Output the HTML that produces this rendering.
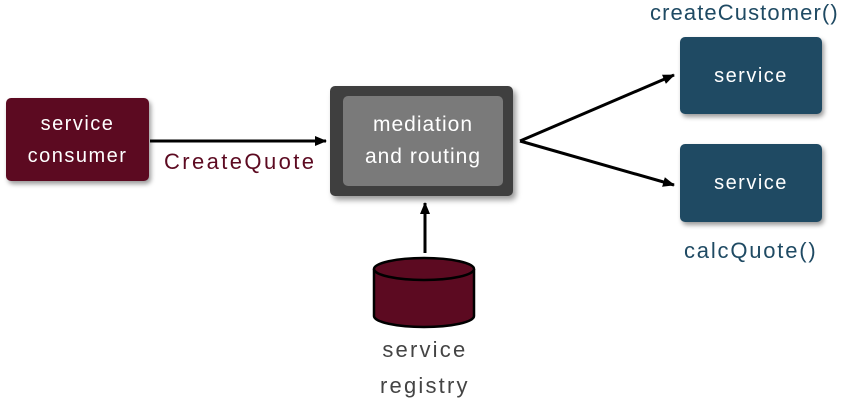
<!DOCTYPE html>
<html><head><style>
body{margin:0;width:851px;height:403px;background:#fff;position:relative;overflow:hidden;font-family:"Liberation Sans",sans-serif}
.b{position:absolute;display:flex;align-items:center;justify-content:center;text-align:center;color:#fff;font-size:20px;line-height:32px;border-radius:5px;letter-spacing:1.5px}
.t{position:absolute;font-size:22px;white-space:nowrap}
</style></head><body>
<div class="b" style="left:6px;top:98px;width:143px;height:83px;background:#5c0a21;box-shadow:2px 3px 5px rgba(0,0,0,.4)">service<br>consumer</div>
<div class="b" style="left:330px;top:86px;width:183px;height:110px;background:#3f3f3f;box-shadow:3px 4px 6px rgba(0,0,0,.4)"></div>
<div class="b" style="left:343px;top:96px;width:160px;height:90px;background:#7a7a7a;font-size:21px;letter-spacing:1px">mediation<br>and routing</div>
<div class="b" style="left:680px;top:37px;width:142px;height:77px;background:#1f4a63;box-shadow:2px 3px 5px rgba(0,0,0,.4)">service</div>
<div class="b" style="left:680px;top:144px;width:142px;height:78px;background:#1f4a63;box-shadow:2px 3px 5px rgba(0,0,0,.4)">service</div>
<div class="t" style="left:164px;top:149px;color:#5c0a21;letter-spacing:2.4px">CreateQuote</div>
<div class="t" style="left:650px;top:0px;color:#1f4a63;letter-spacing:1.1px">createCustomer()</div>
<div class="t" style="left:684px;top:238px;color:#1f4a63;letter-spacing:1.8px">calcQuote()</div>
<div class="t" style="left:380px;top:332px;color:#444;text-align:center;line-height:36px;letter-spacing:2.2px">service<br>registry</div>
<svg width="851" height="403" style="position:absolute;left:0;top:0">
<defs><marker id="a" markerWidth="12" markerHeight="10" refX="11" refY="5" orient="auto" markerUnits="userSpaceOnUse"><path d="M0,0 L12,5 L0,10 z" fill="#000"/></marker></defs>
<g stroke="#000" stroke-width="3" fill="none">
<line x1="150" y1="141" x2="326" y2="141" marker-end="url(#a)"/>
<line x1="520" y1="141" x2="674" y2="75" marker-end="url(#a)"/>
<line x1="520" y1="141" x2="674" y2="185" marker-end="url(#a)"/>
<line x1="425" y1="253" x2="425" y2="203" marker-end="url(#a)"/>
</g>
<path d="M374,269 L374,316 A50,11 0 0 0 474,316 L474,269" fill="#5c0a21" stroke="#000" stroke-width="2.5"/>
<ellipse cx="424" cy="269" rx="50" ry="11" fill="#5c0a21" stroke="#000" stroke-width="2.5"/>
</svg>
</body></html>
